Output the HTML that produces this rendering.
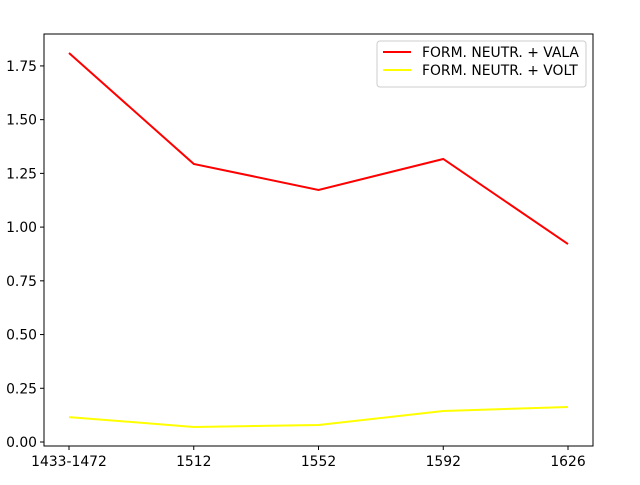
<!DOCTYPE html>
<html><head><meta charset="utf-8"><style>body{margin:0;background:#fff}svg text{font-family:"DejaVu Sans","Liberation Sans",sans-serif;font-size:13.9px;fill:#000}</style></head>
<body>
<svg id="c" width="640" height="480"></svg>
<script>
const categories=["1433-1472","1512","1552","1592","1626"];
const valaValues=[1.81,1.294,1.173,1.317,0.921];
const voltValues=[0.116,0.07,0.079,0.144,0.163];
const yTicks=[0,0.25,0.5,0.75,1.0,1.25,1.5,1.75];
const L=44,R=593,T=34,B=446;
const x=i=>69+i*(568-69)/(categories.length-1);
const y=v=>442-v*214.9;
const svg=document.getElementById('c');const NS='http://www.w3.org/2000/svg';
function mk(t,a,p){const e=document.createElementNS(NS,t);for(const k in a)e.setAttribute(k,a[k]);(p||svg).appendChild(e);return e;}
yTicks.forEach(v=>{
 const tk=mk('line',{x1:L-4,x2:L,y1:y(v),y2:y(v),stroke:'#000'});
 
 
 const t=mk('text',{x:L-7,y:y(v)+5,'text-anchor':'end'});t.textContent=v.toFixed(2);
 
 
});
categories.forEach((c,i)=>{
 const tk=mk('line',{x1:x(i),x2:x(i),y1:B,y2:B+4,stroke:'#000'});
 
 
 const t=mk('text',{x:x(i),y:B+20,'text-anchor':'middle'});t.textContent=c;
 
 
});
function series(vals,col,name){
 const p=mk('polyline',{points:vals.map((v,i)=>x(i)+','+y(v)).join(' '),fill:'none',stroke:col,'stroke-width':2});
 
 
}
series(valaValues,'#ff0000','series-vala');
series(voltValues,'#ffff00','series-volt');
const frame=mk('rect',{x:L,y:T,width:R-L,height:B-T,fill:'none',stroke:'#000'});


const g=mk('g',{});


mk('rect',{x:377,y:41,width:209,height:46,rx:3,fill:'#fff',stroke:'#ccc'},g);
[['FORM. NEUTR. + VALA','#ff0000',56],['FORM. NEUTR. + VOLT','#ffff00',74]].forEach(([n,c,yy])=>{
 const e=mk('g',{},g);
 
 
 mk('line',{x1:383,x2:411,y1:yy-4,y2:yy-4,stroke:c,'stroke-width':2},e);
 const t=mk('text',{x:422,y:yy+1},e);t.textContent=n;
});
</script>
</body></html>
